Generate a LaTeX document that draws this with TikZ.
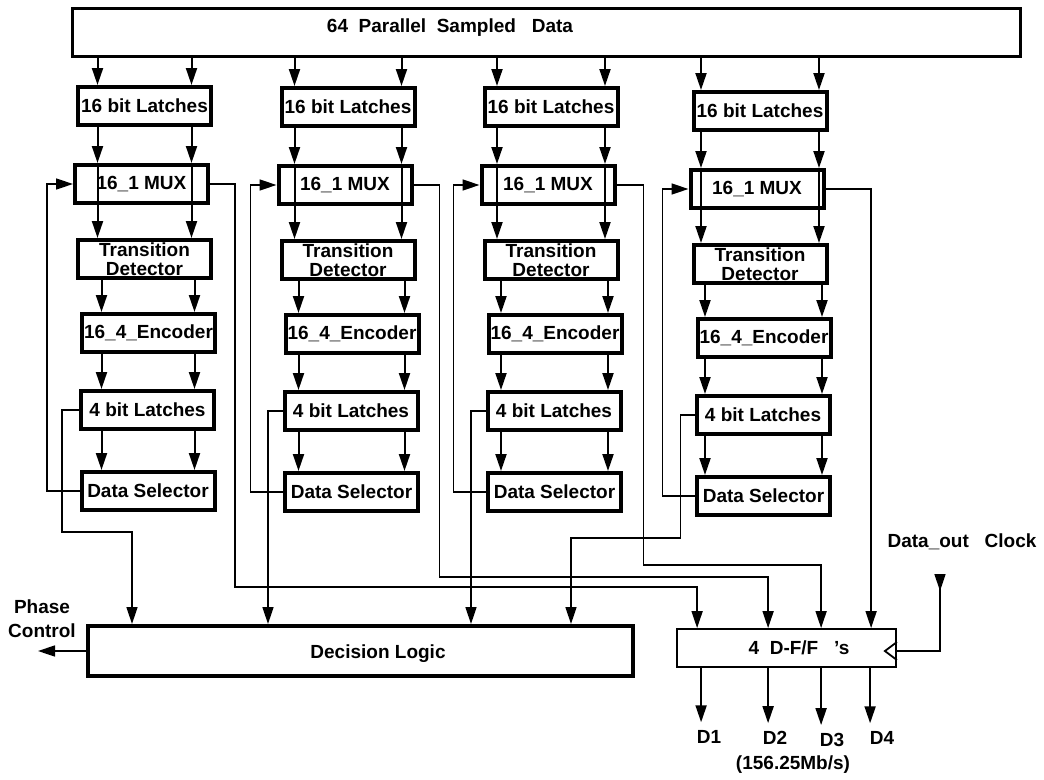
\documentclass[tikz,border=0pt]{standalone}
\usepackage{fontspec}
\setmainfont{Liberation Sans}
\usetikzlibrary{arrows.meta, positioning}

\begin{document}
\begin{tikzpicture}[
		x=1pt, y=-1pt,
		every node/.style={font=\bfseries\fontsize{19}{19}\selectfont},
		blk/.style={draw, line width=4pt, minimum width=133pt, minimum height=38pt,
			inner sep=0pt, align=center},
		bar/.style={draw, line width=3pt, minimum width=948pt, minimum height=48pt, inner sep=0pt},
		logic/.style={draw, line width=4pt, minimum width=545pt, minimum height=50pt, inner sep=0pt},
		ffbox/.style={draw, line width=1.8pt, minimum width=219pt, minimum height=38pt, inner sep=0pt},
		lbl/.style={inner sep=0pt, align=center},
		arrow/.style={-{Triangle[length=17pt, width=11pt]}, line width=2pt},
		wire/.style={line width=1.5pt},
		warrow/.style={wire, -{Triangle[length=17pt, width=11pt]}}
	]
		\useasboundingbox (0,0) rectangle (1044,779);

		\node[bar] (bus) at (546.5,32.5) {};
		\node[lbl] (bustxt) at (450,28) {64\ \ Parallel\ \ Sampled\ \ \ Data};

		% four slices
		\foreach \col/\bx/\by/\w in {1/144.5/0/47, 2/348/1/53.5, 3/551/1/54, 4/760/5/59} {
			\node[blk] (lat\col) at (\bx, 106+\by) {16 bit Latches};
			\node[blk] (mux\col) at (\bx-3, 184+\by) {16\_1 MUX};
			\node[blk] (td\col)  at (\bx, 259+\by) {Transition\\Detector};
			\node[blk] (enc\col) at (\bx+4, 333+\by) {16\_4\_Encoder};
			\node[blk] (lb\col)  at (\bx+3, 410+\by) {4 bit Latches};
			\node[blk] (ds\col)  at (\bx+3.5, 491+\by) {Data Selector};
			\coordinate (xl\col) at (\bx-\w, 0);
			\coordinate (xr\col) at (\bx+\w, 0);
			\coordinate (yl\col) at (\bx-\w+4, 0);
			\coordinate (yr\col) at (\bx+\w+3, 0);
			\foreach \side in {l, r} {
				\draw[arrow] (bus.south -| x\side\col) -- (lat\col.north -| x\side\col);
				\draw[arrow] (lat\col.south -| x\side\col) -- (mux\col.north -| x\side\col);
				\draw[arrow] (mux\col.north -| x\side\col) -- (td\col.north -| x\side\col);
				\draw[arrow] (td\col.south -| y\side\col) -- (enc\col.north -| y\side\col);
				\draw[arrow] (enc\col.south -| y\side\col) -- (lb\col.north -| y\side\col);
				\draw[arrow] (lb\col.south -| y\side\col) -- (ds\col.north -| y\side\col);
			}
			% select feedback
			\draw[warrow] (ds\col.west) -| ([xshift=-26pt]mux\col.west) -- (mux\col.west);
		}

		\node[logic] (dl) at (360.5,651) {};
		\node[lbl] (dltxt) at (378,654) {Decision Logic};
		\node[ffbox] (dff) at (786.5,648) {};
		\node[lbl] (dfftxt) at (799,648) {4\ \ D-F/F\ \ \ 's};

		% latch outputs to decision logic
		\coordinate (dl1) at ([xshift=46pt]dl.north west);
		\coordinate (dl2) at ([xshift=182pt]dl.north west);
		\coordinate (dl3) at ([xshift=385pt]dl.north west);
		\coordinate (dl4) at ([xshift=485pt]dl.north west);
		\draw[warrow] (lb1.west) -- ++(-17,0) |- ([yshift=92pt]dl1) -- (dl1);
		\draw[warrow] (lb2.west) -| (dl2);
		\draw[warrow] (lb3.west) -| (dl3);
		\draw[warrow] (lb4.west) -- ++(-14,0) |- ([yshift=86pt]dl4) -- (dl4);

		% mux outputs to flip-flops
		\coordinate (in1) at ([xshift=21pt]dff.north west);
		\coordinate (in2) at ([xshift=92pt]dff.north west);
		\coordinate (in3) at ([xshift=145pt]dff.north west);
		\coordinate (in4) at ([xshift=195pt]dff.north west);
		\foreach \col/\dx/\dy in {1/25/41, 2/26/51, 3/27/63}
			\draw[warrow] (mux\col.east) -- ++(\dx,0) |- ([yshift=\dy]in\col) -- (in\col);
		\draw[warrow] (mux4.east) -| (in4);

		% clock
		\draw[line width=1.8pt] ([yshift=6pt]dff.east) -- ++(-12,9) -- ++(12,9);
		\coordinate (clk) at (940,574);
		\draw[wire] (clk) |- ([yshift=-3pt]dff.east);
		\draw[warrow] (clk) -- ++(0,17);
		\node[lbl] (clklbl) at (962,542) {Data\_out\ \ \ Clock};

		% phase control
		\coordinate (phase) at (38,652);
		\draw[warrow] (dl.west) -- (phase |- dl.west);
		\node[lbl, font=\bfseries\fontsize{19}{24}\selectfont] (phlbl) at (42,619) {Phase\\Control};

		% outputs
		\foreach \i/\dx/\lx/\ly in {1/25/709/737, 2/92/775/738, 3/145/832/740, 4/194/882/738} {
			\coordinate (out\i) at ([xshift=\dx]dff.south west);
			\node[lbl] (d\i) at (\lx,\ly) {D\i};
			\draw[arrow, shorten >=8pt] (out\i) -- (out\i |- d\i.north);
		}
		\node[lbl] (rate) at (793,765) {(156.25Mb/s)};
	\end{tikzpicture}
\end{document}
